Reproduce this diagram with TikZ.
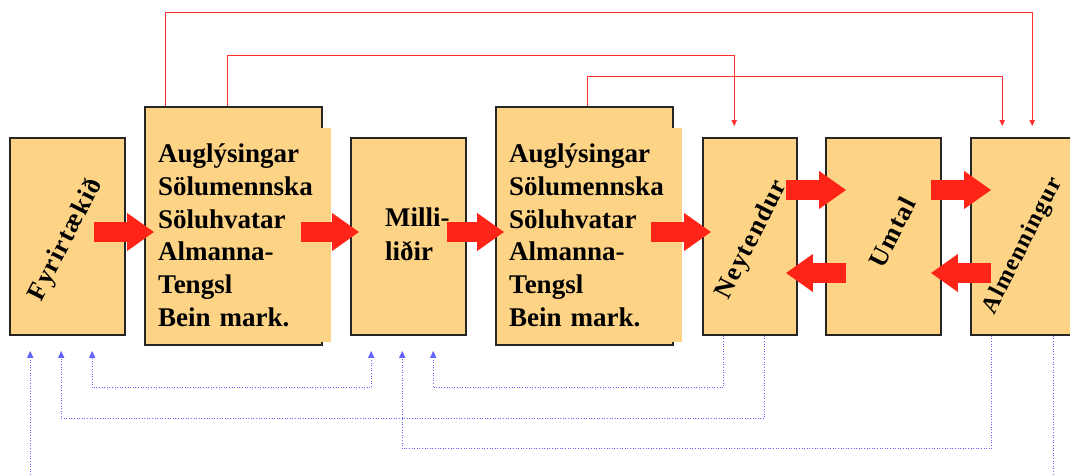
\documentclass[tikz,border=0pt]{standalone}
\usepackage{fontspec}
\setmainfont{Liberation Serif}
\newfontfamily\spacedserif[LetterSpace=5]{Liberation Serif}
\usetikzlibrary{arrows.meta,calc}
\definecolor{boxfill}{HTML}{FDD385}
\definecolor{flowred}{HTML}{FF2418}
\definecolor{linkred}{HTML}{FF3030}
\definecolor{infoblue}{HTML}{6464FF}
\tikzset{
  stage/.style={draw=black!85, line width=1.6pt, fill=boxfill, inner sep=0pt},
  slanted/.style={rotate=63, fill=boxfill, inner xsep=1pt, inner ysep=3pt,
    font=\spacedserif\fontsize{26}{28}\selectfont\bfseries},
  listtext/.style={fill=boxfill, inner xsep=8pt, inner ysep=0pt, align=left,
    anchor=north west, text width=165pt, minimum height=214pt,
    font=\fontsize{27}{32.7}\selectfont\bfseries},
  plaintext/.style={inner sep=0pt, align=left, anchor=west,
    font=\fontsize{27}{34}\selectfont\bfseries},
  flow/.style={flowred, line width=20pt, -{Triangle[width=36pt,length=27pt]}},
  link/.style={linkred, line width=1.4pt, -{Triangle[width=5pt,length=6pt]}},
  info/.style={infoblue, line width=1.3pt, dash pattern=on 1pt off 1.6pt, -{Triangle[width=6pt,length=7pt]}},
  infoboth/.style={info, {Triangle[width=6pt,length=7pt]}-{Triangle[width=6pt,length=7pt]}}
}
\begin{document}
\begin{tikzpicture}[x=1pt,y=-1pt]
\useasboundingbox (0,0) rectangle (1070,474);
\clip (0,0) rectangle (1070,474);

% stages
\node[stage, minimum width=115pt, minimum height=197pt] (f)   at (67.5,236.5) {};
\node[stage, minimum width=177pt, minimum height=238pt] (ad1) at (233.5,226) {};
\node[stage, minimum width=115pt, minimum height=197pt] (mid) at (408.5,236.5) {};
\node[stage, minimum width=177pt, minimum height=238pt] (ad2) at (584.5,226) {};
\node[stage, minimum width=94pt,  minimum height=197pt] (ney) at (750,236.5) {};
\node[stage, minimum width=115pt, minimum height=197pt] (umt) at (883.5,236.5) {};
\node[stage, minimum width=119pt, minimum height=197pt] (alm) at (1030.5,236.5) {};

% feedback lines below the stages
\draw[infoboth] ($(mid.south west)+(21,15)$) |- ($(f.south west)+(83,52)$) -- ($(f.south west)+(83,15)$);
\draw[info] ($(ney.south west)+(62,0)$) |- ($(f.south west)+(52,83)$) -- ($(f.south west)+(52,15)$);
\draw[info] ($(ney.south west)+(21,0)$) |- ($(mid.south west)+(83,52)$) -- ($(mid.south west)+(83,15)$);
\draw[info] ($(alm.south west)+(21,0)$) |- ($(mid.south west)+(52,113)$) -- ($(mid.south west)+(52,15)$);
\draw[info] ($(alm.south west)+(83,0)$) |- ($(f.south west)+(21,160)$) -- ($(f.south west)+(21,15)$);

% links above the stages
\draw[link] ($(ad1.north west)+(21,0)$) |- ($(alm.north west)+(62,-125)$) -- ($(alm.north west)+(62,-11)$);
\draw[link] ($(ad1.north west)+(83,0)$) |- ($(ney.north west)+(32,-82)$) -- ($(ney.north west)+(32,-11)$);
\draw[link] ($(ad2.north west)+(92,0)$) |- ($(alm.north west)+(32,-61)$) -- ($(alm.north west)+(32,-11)$);

% texts
\node[listtext] (ad1t) at (150,128) {Auglýsingar\\Sölumennska\\Söluhvatar\\Almanna-\\Tengsl\\Bein mark.};
\node[listtext] (ad2t) at (501,128) {Auglýsingar\\Sölumennska\\Söluhvatar\\Almanna-\\Tengsl\\Bein mark.};
\node[plaintext] (midt) at (385,234.5) {Milli-\\liðir};
\node[slanted] (fl) at (66,240) {Fyrirtækið};
\node[slanted] (nl) at (752,240) {Neytendur};
\node[slanted] (ul) at (892,232) {Umtal};
\node[slanted, font=\spacedserif\fontsize{24}{28}\selectfont\bfseries] (al) at (1023,246) {Almenningur};

% main flow
\coordinate (r0) at (0,232);
\coordinate (rU) at (0,190);
\coordinate (rL) at (0,273);
\draw[flow] ($(f.east |- r0)+(-32,0)$) -- ($(ad1.west |- r0)+(10,0)$);
\draw[flow] ($(ad1.east |- r0)+(-22,0)$) -- ($(mid.west |- r0)+(9,0)$);
\draw[flow] ($(mid.east |- r0)+(-20,0)$) -- ($(ad2.west |- r0)+(9,0)$);
\draw[flow] ($(ad2.east |- r0)+(-23,0)$) -- ($(ney.west |- r0)+(9,0)$);
\draw[flow] ($(ney.east |- rU)+(-12,0)$) -- ($(umt.west |- rU)+(21,0)$);
\draw[flow] ($(umt.east |- rU)+(-11,0)$) -- ($(alm.west |- rU)+(21,0)$);
\draw[flow] ($(umt.west |- rL)+(21,0)$) -- ($(ney.east |- rL)+(-12,0)$);
\draw[flow] ($(alm.west |- rL)+(21,0)$) -- ($(umt.east |- rL)+(-11,0)$);
\end{tikzpicture}
\end{document}
